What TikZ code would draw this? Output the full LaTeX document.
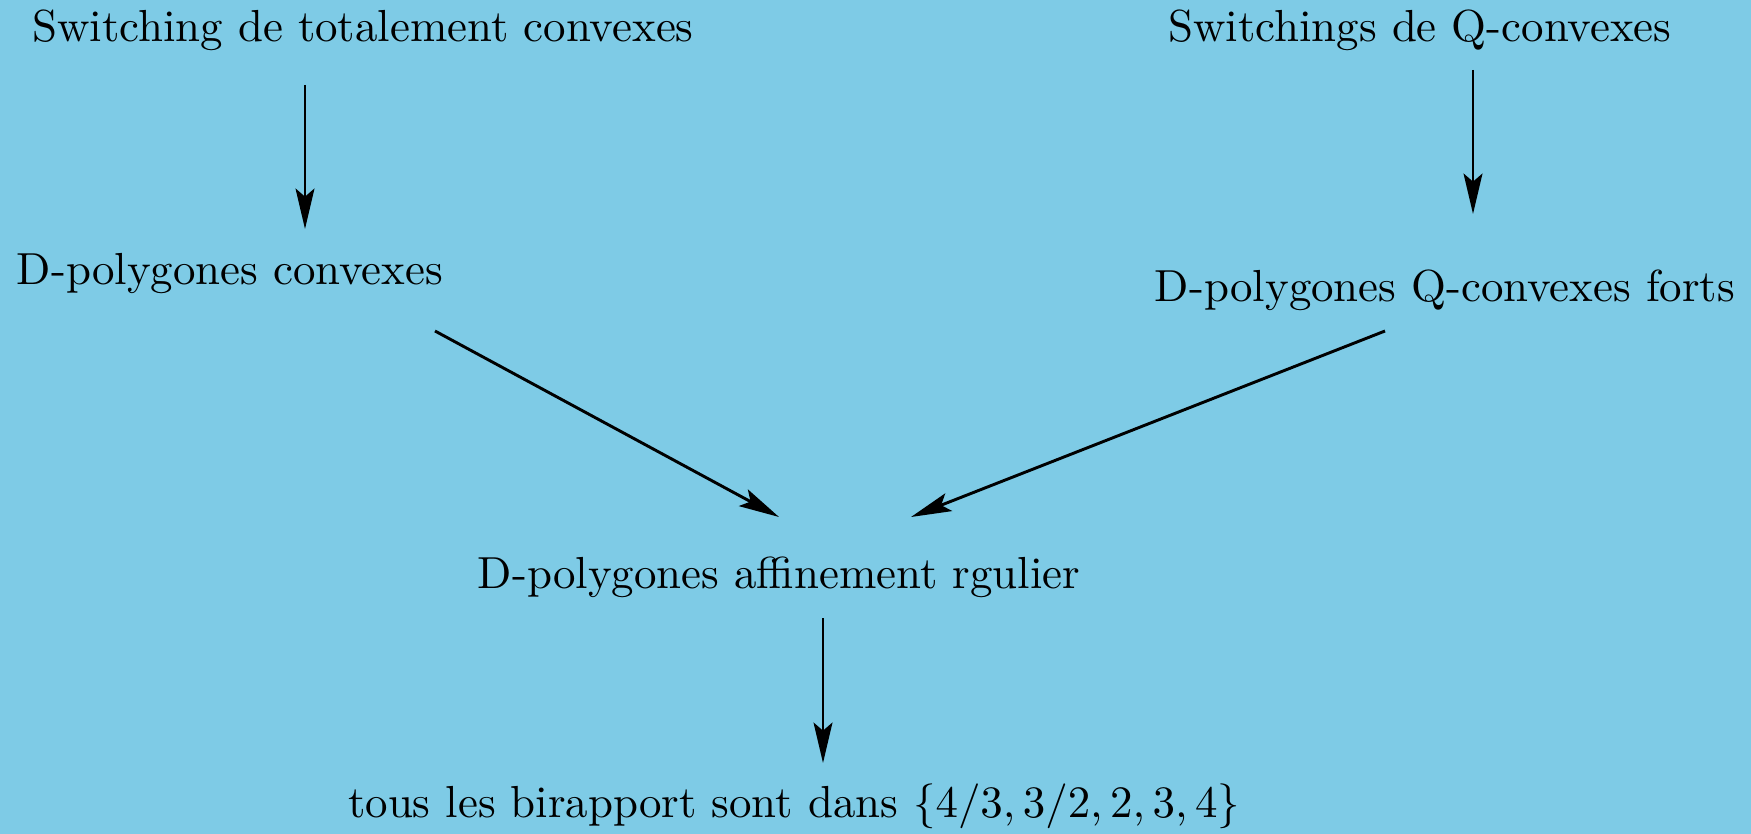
\documentclass[tikz,border=0pt]{standalone}
\usepackage{tikz}
\usetikzlibrary{arrows.meta}
\definecolor{skyFill}{RGB}{126,203,230}
\tikzset{
  arrow/.style={-{Stealth[length=9pt,width=4.2pt,inset=1.8pt]}, draw=black, line width=0.65pt},
  label/.style={inner sep=2pt, text=black}
}

\begin{document}
\begin{tikzpicture}[x=0.00783cm,y=-0.00783cm]
  \fill[skyFill] (0,0) rectangle (1751,834);
  \useasboundingbox (0,0) rectangle (1751,834);

  \node[label] (switchTot) at (363,30) {Switching de totalement convexes};
  \node[label] (switchQ) at (1420,30) {Switchings de Q-convexes};
  \node[label] (polyConv) at (230,274) {D-polygones convexes};
  \node[label] (polyQ) at (1445,290) {D-polygones Q-convexes forts};
  \node[label] (polyAff) at (779,577) {D-polygones affinement rgulier};
  \node[label] (birap) at (794,806) {tous les birapport sont dans $\{4/3, 3/2, 2, 3, 4\}$};

  \coordinate (a1s) at (305,85);   \coordinate (a1e) at (305,229);
  \coordinate (a2s) at (1473,70);  \coordinate (a2e) at (1473,214);
  \coordinate (a3s) at (435,331);  \coordinate (a3e) at (779,517);
  \coordinate (a4s) at (1385,331); \coordinate (a4e) at (911,517);
  \coordinate (a5s) at (823,618);  \coordinate (a5e) at (823,763);

  \draw[arrow] (a1s) -- (a1e);
  \draw[arrow] (a2s) -- (a2e);
  \draw[arrow] (a3s) -- (a3e);
  \draw[arrow] (a4s) -- (a4e);
  \draw[arrow] (a5s) -- (a5e);
\end{tikzpicture}
\end{document}
